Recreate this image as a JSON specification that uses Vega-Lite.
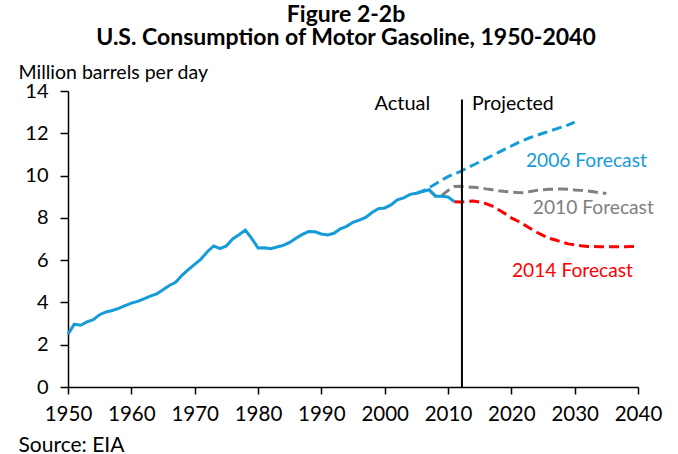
{
  "$schema": "https://vega.github.io/schema/vega-lite/v6.json",
  "width": 570,
  "height": 296,
  "autosize": "none",
  "padding": {"left": 68, "top": 91, "right": 40, "bottom": 67},
  "config": {"view": {"stroke": null}, "font": "Lato"},
  "title": {
    "text": ["Figure 2-2b", "U.S. Consumpt\u200bion of Motor Gasoline, 1950-2040"],
    "font": "Lato", "fontSize": 23, "fontWeight": "bold", "color": "#000000",
    "anchor": "middle", "dx": -7, "lineHeight": 23, "offset": 12
  },
  "datasets": {
    "one": [{"n": 1}],
    "actual": [
      {"year": 1950, "value": 2.5}, {"year": 1951, "value": 2.97}, {"year": 1952, "value": 2.92},
      {"year": 1953, "value": 3.08}, {"year": 1954, "value": 3.18}, {"year": 1955, "value": 3.42},
      {"year": 1956, "value": 3.55}, {"year": 1957, "value": 3.62}, {"year": 1958, "value": 3.72},
      {"year": 1959, "value": 3.85}, {"year": 1960, "value": 3.97}, {"year": 1961, "value": 4.05},
      {"year": 1962, "value": 4.17}, {"year": 1963, "value": 4.3}, {"year": 1964, "value": 4.4},
      {"year": 1965, "value": 4.6}, {"year": 1966, "value": 4.8}, {"year": 1967, "value": 4.95},
      {"year": 1968, "value": 5.28}, {"year": 1969, "value": 5.55}, {"year": 1970, "value": 5.8},
      {"year": 1971, "value": 6.05}, {"year": 1972, "value": 6.4}, {"year": 1973, "value": 6.67},
      {"year": 1974, "value": 6.54}, {"year": 1975, "value": 6.67}, {"year": 1976, "value": 7.0},
      {"year": 1977, "value": 7.2}, {"year": 1978, "value": 7.42}, {"year": 1979, "value": 7.03},
      {"year": 1980, "value": 6.58}, {"year": 1981, "value": 6.59}, {"year": 1982, "value": 6.54},
      {"year": 1983, "value": 6.62}, {"year": 1984, "value": 6.7}, {"year": 1985, "value": 6.84},
      {"year": 1986, "value": 7.04}, {"year": 1987, "value": 7.22}, {"year": 1988, "value": 7.35},
      {"year": 1989, "value": 7.34}, {"year": 1990, "value": 7.24}, {"year": 1991, "value": 7.19},
      {"year": 1992, "value": 7.27}, {"year": 1993, "value": 7.48}, {"year": 1994, "value": 7.6},
      {"year": 1995, "value": 7.79}, {"year": 1996, "value": 7.89}, {"year": 1997, "value": 8.02},
      {"year": 1998, "value": 8.25}, {"year": 1999, "value": 8.43}, {"year": 2000, "value": 8.47},
      {"year": 2001, "value": 8.61}, {"year": 2002, "value": 8.85}, {"year": 2003, "value": 8.94},
      {"year": 2004, "value": 9.11}, {"year": 2005, "value": 9.16}, {"year": 2006, "value": 9.25},
      {"year": 2007, "value": 9.33}, {"year": 2008, "value": 9.02}, {"year": 2009, "value": 9.02},
      {"year": 2010, "value": 8.99}, {"year": 2011, "value": 8.76}
    ],
    "f2006": [
      {"year": 2005, "value": 9.16}, {"year": 2006, "value": 9.27}, {"year": 2007, "value": 9.42},
      {"year": 2008, "value": 9.6}, {"year": 2009, "value": 9.78}, {"year": 2010, "value": 9.95},
      {"year": 2011, "value": 10.08}, {"year": 2012, "value": 10.2}, {"year": 2013, "value": 10.35},
      {"year": 2014, "value": 10.5}, {"year": 2015, "value": 10.65}, {"year": 2016, "value": 10.8},
      {"year": 2017, "value": 10.95}, {"year": 2018, "value": 11.1}, {"year": 2019, "value": 11.25},
      {"year": 2020, "value": 11.4}, {"year": 2021, "value": 11.55}, {"year": 2022, "value": 11.68},
      {"year": 2023, "value": 11.8}, {"year": 2024, "value": 11.9}, {"year": 2025, "value": 12.0},
      {"year": 2026, "value": 12.1}, {"year": 2027, "value": 12.2}, {"year": 2028, "value": 12.3},
      {"year": 2029, "value": 12.4}, {"year": 2030, "value": 12.53}
    ],
    "f2010": [
      {"year": 2007, "value": 9.33}, {"year": 2008, "value": 9.05}, {"year": 2009, "value": 9.05},
      {"year": 2010, "value": 9.3}, {"year": 2011, "value": 9.48}, {"year": 2012, "value": 9.5},
      {"year": 2013, "value": 9.47}, {"year": 2014, "value": 9.45}, {"year": 2015, "value": 9.42},
      {"year": 2016, "value": 9.37}, {"year": 2017, "value": 9.33}, {"year": 2018, "value": 9.28},
      {"year": 2019, "value": 9.25}, {"year": 2020, "value": 9.22}, {"year": 2021, "value": 9.2},
      {"year": 2022, "value": 9.19}, {"year": 2023, "value": 9.25}, {"year": 2024, "value": 9.3},
      {"year": 2025, "value": 9.33}, {"year": 2026, "value": 9.35}, {"year": 2027, "value": 9.36},
      {"year": 2028, "value": 9.36}, {"year": 2029, "value": 9.35}, {"year": 2030, "value": 9.32},
      {"year": 2031, "value": 9.3}, {"year": 2032, "value": 9.27}, {"year": 2033, "value": 9.23},
      {"year": 2034, "value": 9.19}, {"year": 2035, "value": 9.15}
    ],
    "f2014": [
      {"year": 2011, "value": 8.76}, {"year": 2012, "value": 8.75}, {"year": 2013, "value": 8.77},
      {"year": 2014, "value": 8.8}, {"year": 2015, "value": 8.75}, {"year": 2016, "value": 8.67},
      {"year": 2017, "value": 8.55}, {"year": 2018, "value": 8.38}, {"year": 2019, "value": 8.2},
      {"year": 2020, "value": 8.0}, {"year": 2021, "value": 7.85}, {"year": 2022, "value": 7.68},
      {"year": 2023, "value": 7.5}, {"year": 2024, "value": 7.32}, {"year": 2025, "value": 7.17},
      {"year": 2026, "value": 7.03}, {"year": 2027, "value": 6.95}, {"year": 2028, "value": 6.85},
      {"year": 2029, "value": 6.77}, {"year": 2030, "value": 6.72}, {"year": 2031, "value": 6.68},
      {"year": 2032, "value": 6.65}, {"year": 2033, "value": 6.64}, {"year": 2034, "value": 6.63},
      {"year": 2035, "value": 6.63}, {"year": 2036, "value": 6.63}, {"year": 2037, "value": 6.63},
      {"year": 2038, "value": 6.63}, {"year": 2039, "value": 6.64}, {"year": 2040, "value": 6.65}
    ]
  },
  "layer": [
    {
      "data": {"name": "f2006"},
      "mark": {"type": "line", "color": "#159bd7", "strokeWidth": 3, "strokeDash": [10, 5]},
      "encoding": {
        "x": {
          "field": "year", "type": "quantitative",
          "scale": {"domain": [1950, 2040], "nice": false, "zero": false},
          "axis": {
            "values": [1950, 1960, 1970, 1980, 1990, 2000, 2010, 2020, 2030, 2040],
            "format": "d", "grid": false, "labelFlush": false, "labelOverlap": false,
            "labelFont": "Lato", "labelFontSize": 20.5, "labelColor": "#000000", "labelPadding": 10,
            "tickSize": 7, "tickColor": "#000000", "tickWidth": 1.5,
            "domainColor": "#000000", "domainWidth": 1.5,
            "title": "Source: EIA", "titleFont": "Lato", "titleFontSize": 21, "titleFontWeight": "normal",
            "titleColor": "#000000", "titleAlign": "left", "titleAnchor": "start", "titleBaseline": "alphabetic",
            "titleX": -50, "titleY": 64
          }
        },
        "y": {
          "field": "value", "type": "quantitative",
          "scale": {"domain": [0, 14], "nice": false},
          "axis": {
            "values": [0, 2, 4, 6, 8, 10, 12, 14],
            "grid": false, "labelFont": "Lato", "labelFontSize": 20, "labelColor": "#000000", "labelPadding": 12,
            "tickSize": 8, "tickColor": "#000000", "tickWidth": 1.5,
            "domainColor": "#000000", "domainWidth": 1.5,
            "title": "Million barrels per day", "titleFont": "Lato", "titleFontSize": 19.5, "titleFontWeight": "normal",
            "titleColor": "#000000", "titleAngle": 0, "titleAlign": "left", "titleAnchor": "start", "titleBaseline": "alphabetic",
            "titleX": -50, "titleY": -13
          }
        }
      }
    },
    {
      "data": {"name": "f2010"},
      "mark": {"type": "line", "color": "#808080", "strokeWidth": 3, "strokeDash": [10, 5]},
      "encoding": {"x": {"field": "year", "type": "quantitative"}, "y": {"field": "value", "type": "quantitative"}}
    },
    {
      "data": {"name": "f2014"},
      "mark": {"type": "line", "color": "#ff0000", "strokeWidth": 3, "strokeDash": [10, 5]},
      "encoding": {"x": {"field": "year", "type": "quantitative"}, "y": {"field": "value", "type": "quantitative"}}
    },
    {
      "data": {"name": "actual"},
      "mark": {"type": "line", "color": "#159bd7", "strokeWidth": 3},
      "encoding": {"x": {"field": "year", "type": "quantitative"}, "y": {"field": "value", "type": "quantitative"}}
    },
    {
      "data": {"name": "one"},
      "mark": {"type": "rule", "color": "#000000", "strokeWidth": 2},
      "encoding": {"x": {"datum": 2012.2, "type": "quantitative"}, "y": {"datum": 0, "type": "quantitative"}, "y2": {"datum": 13.6}}
    },
    {
      "data": {"name": "one"},
      "mark": {"type": "text", "text": "Actual", "align": "right", "baseline": "alphabetic", "fontSize": 20, "font": "Lato", "color": "#000000"},
      "encoding": {"x": {"datum": 2007.2, "type": "quantitative"}, "y": {"datum": 13.1, "type": "quantitative"}}
    },
    {
      "data": {"name": "one"},
      "mark": {"type": "text", "text": "Projected", "align": "left", "baseline": "alphabetic", "fontSize": 19.5, "font": "Lato", "color": "#000000"},
      "encoding": {"x": {"datum": 2013.8, "type": "quantitative"}, "y": {"datum": 13.1, "type": "quantitative"}}
    },
    {
      "data": {"name": "one"},
      "mark": {"type": "text", "text": "2006 Forecast", "align": "left", "baseline": "alphabetic", "fontSize": 19.2, "font": "Lato", "color": "#159bd7"},
      "encoding": {"x": {"datum": 2022.3, "type": "quantitative"}, "y": {"datum": 10.42, "type": "quantitative"}}
    },
    {
      "data": {"name": "one"},
      "mark": {"type": "text", "text": "2010 Forecast", "align": "left", "baseline": "alphabetic", "fontSize": 19.2, "font": "Lato", "color": "#808080"},
      "encoding": {"x": {"datum": 2023.4, "type": "quantitative"}, "y": {"datum": 8.16, "type": "quantitative"}}
    },
    {
      "data": {"name": "one"},
      "mark": {"type": "text", "text": "2014 Forecast", "align": "left", "baseline": "alphabetic", "fontSize": 19.2, "font": "Lato", "color": "#ff0000"},
      "encoding": {"x": {"datum": 2020.1, "type": "quantitative"}, "y": {"datum": 5.21, "type": "quantitative"}}
    }
  ]
}
